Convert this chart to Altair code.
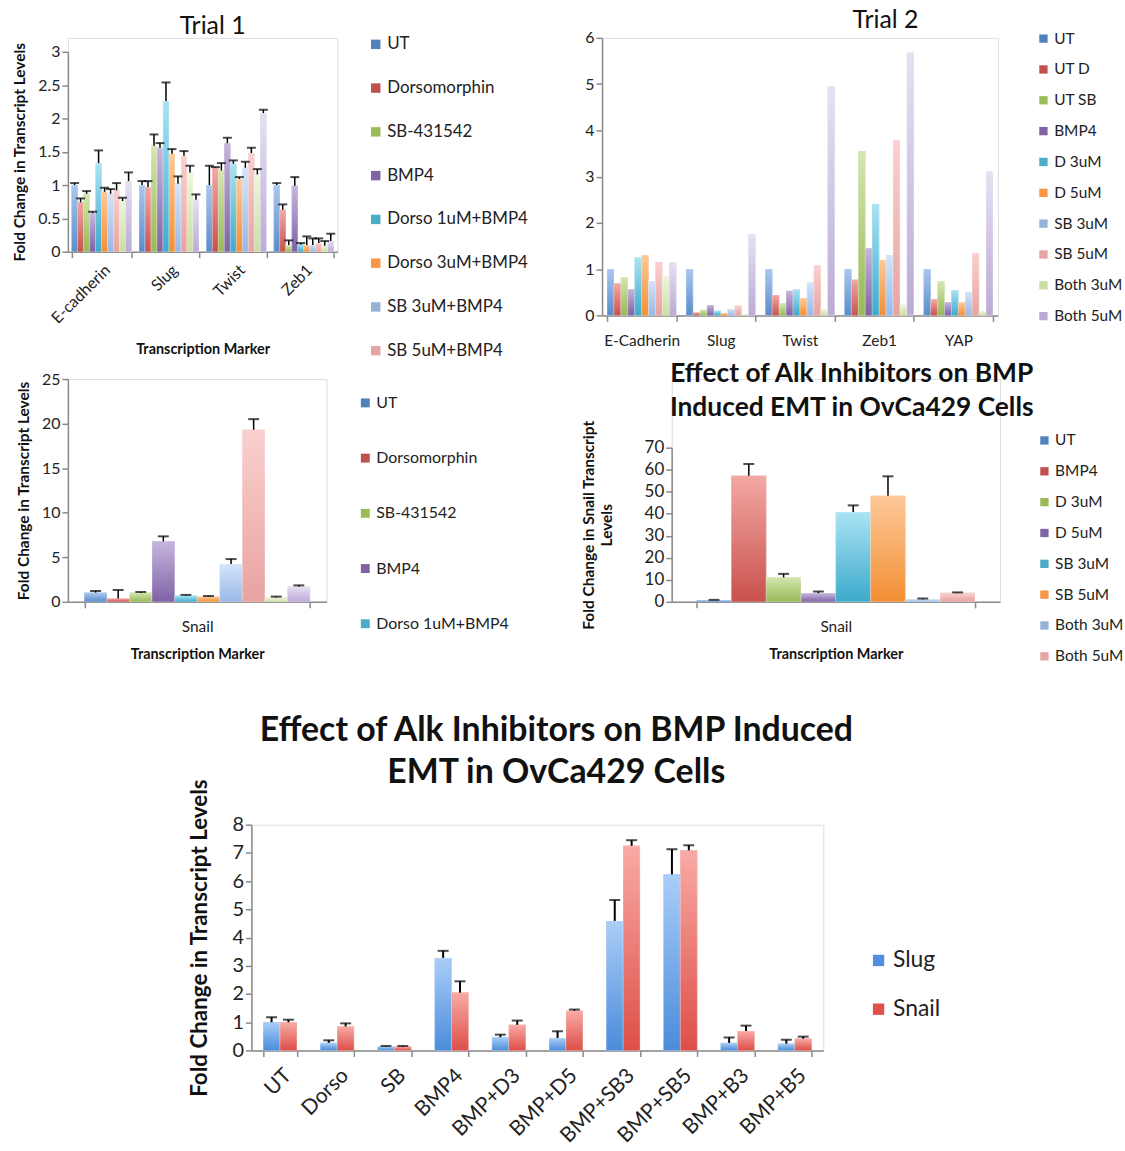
import altair as alt
import pandas as pd

FONT = "Lato"

# ---------------- Trial 1 ----------------
t1_markers = ["E-cadherin", "Slug", "Twist", "Zeb1"]
t1_treatments = ["UT", "Dorsomorphin", "SB-431542", "BMP4", "Dorso 1uM+BMP4",
                 "Dorso 3uM+BMP4", "SB 3uM+BMP4", "SB 5uM+BMP4", "Both 3uM+BMP4", "Both 5uM+BMP4"]
t1_ecad = [1.00, 0.74, 0.87, 0.58, 1.33, 0.90, 0.87, 0.92, 0.76, 1.06]
t1_ecad_err = [0.03, 0.06, 0.04, 0.02, 0.19, 0.06, 0.07, 0.11, 0.05, 0.13]
t1_slug = [1.00, 0.97, 1.59, 1.56, 2.26, 1.47, 1.02, 1.44, 1.19, 0.78]
t1_slug_err = [0.06, 0.09, 0.17, 0.07, 0.28, 0.07, 0.11, 0.07, 0.10, 0.08]
t1_twist = [1.00, 1.26, 1.22, 1.63, 1.32, 1.09, 1.26, 1.48, 1.16, 2.08]
t1_twist_err = [0.29, 0.01, 0.11, 0.08, 0.05, 0.03, 0.09, 0.08, 0.08, 0.05]
t1_zeb1 = [1.00, 0.63, 0.10, 0.99, 0.11, 0.10, 0.10, 0.13, 0.09, 0.16]
t1_zeb1_err = [0.03, 0.08, 0.07, 0.13, 0.02, 0.13, 0.10, 0.07, 0.07, 0.11]

# ---------------- Trial 2 ----------------
t2_markers = ["E-Cadherin", "Slug", "Twist", "Zeb1", "YAP"]
t2_treatments = ["UT", "UT D", "UT SB", "BMP4", "D 3uM", "D 5uM", "SB 3uM", "SB 5uM", "Both 3uM", "Both 5uM"]
t2_ecad = [1.00, 0.69, 0.82, 0.57, 1.25, 1.30, 0.74, 1.15, 0.84, 1.15]
t2_slug = [1.00, 0.06, 0.12, 0.22, 0.10, 0.05, 0.14, 0.21, 0.03, 1.75]
t2_twist = [1.00, 0.44, 0.26, 0.53, 0.56, 0.37, 0.72, 1.08, 0.14, 4.95]
t2_zeb1 = [1.00, 0.77, 3.55, 1.45, 2.41, 1.20, 1.30, 3.79, 0.23, 5.68]
t2_yap = [1.00, 0.35, 0.74, 0.29, 0.54, 0.28, 0.50, 1.35, 0.09, 3.11]

# ---------------- Snail (Trial 1 series) ----------------
snail1_marker = ["Snail"]
snail1_vals = [1.03, 0.37, 1.03, 6.79, 0.70, 0.59, 4.25, 19.31, 0.48, 1.70]
snail1_err = [0.19, 0.96, 0.08, 0.56, 0.08, 0.07, 0.55, 1.19, 0.11, 0.15]

# ---------------- Snail (Alk inhibitors) ----------------
snail2_treatments = ["UT", "BMP4", "D 3uM", "D 5uM", "SB 3uM", "SB 5uM", "Both 3uM", "Both 5uM"]
snail2_vals = [0.8, 57.3, 11.1, 3.9, 40.8, 48.2, 1.2, 4.1]
snail2_err = [0.1, 5.3, 1.6, 0.8, 3.0, 8.8, 0.3, 0.2]

# ---------------- Slug / Snail summary ----------------
e_groups = ["UT", "Dorso", "SB", "BMP4", "BMP+D3", "BMP+D5", "BMP+SB3", "BMP+SB5", "BMP+B3", "BMP+B5"]
e_series = ["Slug", "Snail"]
e_slug = [1.00, 0.27, 0.14, 3.28, 0.47, 0.44, 4.59, 6.24, 0.27, 0.24]
e_slug_err = [0.18, 0.09, 0.02, 0.25, 0.09, 0.24, 0.74, 0.89, 0.19, 0.14]
e_snail = [1.00, 0.85, 0.14, 2.05, 0.91, 1.41, 7.25, 7.09, 0.69, 0.42]
e_snail_err = [0.09, 0.11, 0.02, 0.40, 0.15, 0.04, 0.20, 0.18, 0.19, 0.07]

# legend (solid) colours and bar gradient (top, bottom) colours
pal10 = ["#4F81BD", "#C0504D", "#9BBB59", "#8064A2", "#4BACC6",
         "#F79646", "#95B3D7", "#E6A5A3", "#C9DDA4", "#B9A9D4"]
grad10 = [("#A9C7EF", "#5A8CCB"), ("#F3A8A4", "#C9514C"), ("#D5E6B0", "#97B956"),
          ("#C6B6DE", "#7F62A6"), ("#A9E3F4", "#3DAACB"), ("#FDC999", "#F38F34"),
          ("#D3E4FA", "#98B9E6"), ("#FAD0CE", "#E8A3A0"), ("#EEF6DC", "#CADEA2"),
          ("#E7E0F2", "#BBAAD6")]
pal8 = pal10[:7] + ["#E6A5A3"]
grad8 = grad10[:8]
pal2 = ["#4F8FDD", "#E0514B"]
grad2 = [("#AACDF8", "#4A8CDB"), ("#F9AAA5", "#DD4F48")]

AX = "#8a8a8a"


def long_df(cats, series, rows, errs=None):
    recs = []
    for i, c in enumerate(cats):
        for j, s in enumerate(series):
            v = rows[i][j]
            e = errs[i][j] if errs is not None else 0.0
            recs.append({"cat": c, "ser": s, "value": v, "hi": v + e})
    return pd.DataFrame(recs)


def panel(df, cats, series, colors, grads, w, h, ydom, yticks, ytitle, ytsize,
          xtitle, langle, lsize, tsize, pi, legend, title=None, err=True,
          cap=8, xlabpad=4, ytitlepad=8, xtitlepad=8, rulew=1.5, yfmt="~g", xtsize=14.5,
          ytop=0):
    xaxis = alt.Axis(title=xtitle, labelAngle=langle, labelFontSize=lsize, labelFont=FONT,
                     labelColor="#222", tickBand="extent", domainColor=AX, tickColor=AX,
                     domainWidth=1.5, tickWidth=1.5, tickSize=6, labelPadding=xlabpad,
                     titleFont=FONT, titleFontWeight="bold", titleFontSize=xtsize,
                     titleColor="#111", titlePadding=xtitlepad)
    x = alt.X("cat:N", sort=cats, scale=alt.Scale(domain=cats, paddingInner=pi, paddingOuter=pi / 2),
              axis=xaxis)
    xo = alt.XOffset("ser:N", sort=series,
                     scale=alt.Scale(domain=series, paddingInner=0, paddingOuter=0))
    yaxis = alt.Axis(title=ytitle, values=yticks, format=yfmt, grid=False, labelFontSize=tsize,
                     labelFont=FONT, labelColor="#222", domainColor=AX, tickColor=AX,
                     domainWidth=1.5, tickWidth=1.5, tickSize=6, titleFont=FONT,
                     titleFontWeight="bold", titleFontSize=ytsize, titleColor="#111",
                     titlePadding=ytitlepad)
    yscale = alt.Scale(domain=ydom, nice=False, range=[h, ytop])
    yv = alt.Y("value:Q", scale=yscale, axis=yaxis)
    color = alt.Color("ser:N", sort=series, scale=alt.Scale(domain=series, range=colors), legend=legend)
    base = alt.Chart(df)
    layers = [base.mark_bar().encode(x=x, xOffset=xo, y=yv, color=color)]
    for s, (top, bot) in zip(series, grads):
        g = alt.Gradient(gradient="linear", x1=0, x2=0, y1=0, y2=1,
                         stops=[alt.GradientStop(color=top, offset=0),
                                alt.GradientStop(color=bot, offset=1)])
        layers.append(base.transform_filter(alt.datum.ser == s)
                      .mark_bar(color=g, stroke="#ffffff", strokeOpacity=0.5, strokeWidth=0.6)
                      .encode(x=x, xOffset=xo, y=yv))
    if err:
        layers.append(base.mark_rule(color="black", strokeWidth=rulew).encode(
            x=x, xOffset=xo, y=yv, y2="hi:Q"))
        layers.append(base.mark_tick(color="black", thickness=2, size=cap, orient="horizontal").encode(
            x=x, xOffset=xo, y=alt.Y("hi:Q", scale=yscale, axis=yaxis)))
    ch = alt.layer(*layers).properties(width=w, height=h)
    if title is not None:
        ch = ch.properties(title=title)
    return ch


def leg(x, y, fs, rowpad, sym, values=None):
    kw = dict(orient="none", legendX=x, legendY=y, title=None, symbolType="square",
              symbolSize=sym, symbolStrokeWidth=0, labelFontSize=fs, labelFont=FONT,
              labelColor="#222", rowPadding=rowpad, labelLimit=400, labelOffset=3)
    if values is not None:
        kw["values"] = values
    return alt.Legend(**kw)


def ttl(text, size, weight, offset, dx=0, lh=None):
    kw = dict(text=text, fontSize=size, font=FONT, fontWeight=weight, color="#111",
              offset=offset, anchor="middle", dx=dx, frame="group")
    if lh is not None:
        kw["lineHeight"] = lh
    return alt.TitleParams(**kw)


# Panel A (view starts level with panel B's plot top; its scale starts 14px lower)
dfA = long_df(t1_markers, t1_treatments, [t1_ecad, t1_slug, t1_twist, t1_zeb1],
              [t1_ecad_err, t1_slug_err, t1_twist_err, t1_zeb1_err])
A = panel(dfA, t1_markers, t1_treatments, pal10, grad10, 271, 215, [0, 3],
          [0, 0.5, 1, 1.5, 2, 2.5, 3], "Fold Change in Transcript Levels", 15.5,
          "Transcription Marker", -45, 16, 16, 0.11,
          leg(301, -2, 17, 26, 90, t1_treatments[:8]),
          title=ttl("Trial 1", 25, "normal", -3, dx=10),
          cap=9, rulew=1.5, ytop=14, xtitlepad=16, ytitlepad=10)

# Panel B
dfB = long_df(t2_markers, t2_treatments, [t2_ecad, t2_slug, t2_twist, t2_zeb1, t2_yap])
B = panel(dfB, t2_markers, t2_treatments, pal10, grad10, 398, 279, [0, 6],
          [0, 1, 2, 3, 4, 5, 6], None, 14, None, 0, 15.5, 16, 0.125,
          leg(436, -7, 15.5, 14, 70),
          title=ttl("Trial 2", 25, "normal", -3, dx=86),
          err=False, xlabpad=12)

# Panel C
dfC = long_df(snail1_marker, t1_treatments, [snail1_vals], [snail1_err])
C = panel(dfC, snail1_marker, t1_treatments, pal10, grad10, 260, 224, [0, 25],
          [0, 5, 10, 15, 20, 25], "Fold Change in Transcript Levels", 15.5,
          "Transcription Marker", 0, 15.5, 16, 0.127,
          leg(291, 16, 16, 39.5, 80, t1_treatments[:5]), cap=11, xlabpad=12, xtitlepad=12,
          ytitlepad=10)

# Panel D (view level with panel C's plot top; scale starts 69px lower)
dfD = long_df(snail1_marker, snail2_treatments, [snail2_vals], [snail2_err])
D = panel(dfD, snail1_marker, snail2_treatments, pal8, grad8, 330, 224, [0, 70],
          [0, 10, 20, 30, 40, 50, 60, 70], ["Fold Change in Snail Transcript", "Levels"], 15.5,
          "Transcription Marker", 0, 15.5, 17, 0.152,
          leg(367, 54, 15.5, 14, 70),
          title=ttl(["Effect of Alk Inhibitors on BMP", "Induced EMT in OvCa429 Cells"],
                    26.5, "bold", -43, dx=16, lh=35),
          cap=11, yfmt="d", ytitlepad=30, ytop=69, xlabpad=12, xtitlepad=12)

# Panel E
dfE = long_df(e_groups, e_series, [list(p) for p in zip(e_slug, e_snail)],
              [list(p) for p in zip(e_slug_err, e_snail_err)])
E = panel(dfE, e_groups, e_series, pal2, grad2, 575, 227, [0, 8],
          [0, 1, 2, 3, 4, 5, 6, 7, 8], "Fold Change in Transcript Levels", 22.5,
          None, -45, 21, 20, 0.41,
          leg(619, 125, 23, 25, 130),
          title=ttl(["Effect of Alk Inhibitors on BMP Induced", "EMT in OvCa429 Cells"],
                    34, "bold", -12, dx=19, lh=43),
          cap=11, rulew=2, ytitlepad=21, xlabpad=8)

res = dict(x="independent", y="independent", xOffset="independent", color="independent")

row1 = alt.hconcat(A, B, spacing=55).resolve_scale(**res).resolve_legend(color="independent")
row2 = alt.hconcat(C, D, spacing=71).resolve_scale(**res).resolve_legend(color="independent")
top = alt.vconcat(row1, row2, spacing=0).resolve_scale(**res).resolve_legend(color="independent")

chart = (alt.vconcat(top, E, spacing=47, center=True)
         .resolve_scale(**res).resolve_legend(color="independent")
         .properties(padding={"left": 12, "top": 4, "right": 0, "bottom": 0})
         .configure_view(stroke=None)
         .configure(font=FONT))

chart.save("out.html", embed_options={"renderer": "svg", "actions": False})
